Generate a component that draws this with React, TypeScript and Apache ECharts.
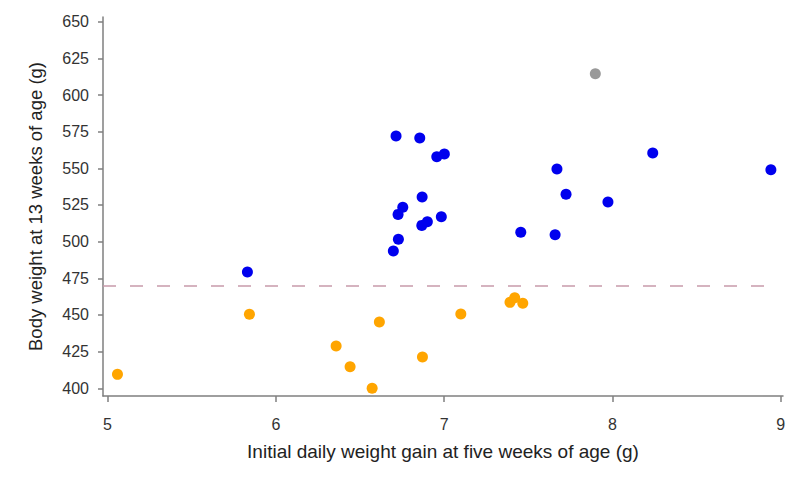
import React, { useEffect, useRef } from "react";
import * as echarts from "echarts";

const xTicks = [5, 6, 7, 8, 9];
const yTicks = [400, 425, 450, 475, 500, 525, 550, 575, 600, 625, 650];

const blueX = [6.714, 6.855, 6.956, 7.001, 6.869, 6.754, 6.726, 6.983, 6.9, 6.867, 6.728, 6.698, 5.831, 8.239, 8.941, 7.67, 7.724, 7.973, 7.455, 7.659];
const blueY = [572.0, 570.7, 557.9, 559.7, 530.4, 523.4, 518.6, 517.0, 513.6, 511.1, 501.6, 493.6, 479.3, 560.4, 549.0, 549.5, 532.3, 527.0, 506.4, 504.7];

const orangeX = [5.843, 6.615, 7.099, 6.358, 6.871, 6.441, 5.059, 6.572, 7.391, 7.419, 7.467];
const orangeY = [450.5, 445.2, 450.7, 428.8, 421.3, 414.7, 409.5, 400.0, 458.6, 461.8, 458.0];

const greyX = [7.898];
const greyY = [614.5];

const thresholdY = 470;

const zip = (xs: number[], ys: number[]) => xs.map((x, i) => [x, ys[i]]);

export default function App() {
  const ref = useRef<HTMLDivElement>(null);
  useEffect(() => {
    if (!ref.current) return;
    const chart = echarts.init(ref.current, null, { renderer: "svg" });
    const font = "'Liberation Sans', Arial, sans-serif";
    const axisLineStyle = { color: "#7f7f7f", width: 1.5 };
    chart.setOption({
      animation: false,
      backgroundColor: "#ffffff",
      grid: { left: 103, right: 17, top: 17, bottom: 82, containLabel: false },
      xAxis: {
        type: "value",
        min: 4.973,
        max: 9.013,
        splitLine: { show: false },
        axisLine: { show: true, lineStyle: axisLineStyle },
        axisTick: { show: true, length: 6, lineStyle: axisLineStyle, customValues: xTicks },
        axisLabel: { customValues: xTicks, color: "#333", fontSize: 16, fontFamily: font, margin: 20 },
        name: "Initial daily weight gain at five weeks of age (g)",
        nameLocation: "middle",
        nameGap: 46,
        nameTextStyle: { color: "#222", fontSize: 19, fontFamily: font },
      },
      yAxis: {
        type: "value",
        min: 394.75,
        max: 653.2,
        splitLine: { show: false },
        axisLine: { show: true, lineStyle: axisLineStyle },
        axisTick: { show: true, length: 5, lineStyle: axisLineStyle, customValues: yTicks },
        axisLabel: { customValues: yTicks, color: "#333", fontSize: 16, fontFamily: font, margin: 14 },
        name: "Body weight at 13 weeks of age (g)",
        nameLocation: "middle",
        nameGap: 58,
        nameRotate: 90,
        nameTextStyle: { color: "#222", fontSize: 18.5, fontFamily: font },
      },
      series: [
        {
          type: "scatter",
          data: zip(orangeX, orangeY),
          symbolSize: 11,
          itemStyle: { color: "#ffa500", opacity: 1 },
          markLine: {
            silent: true,
            symbol: "none",
            label: { show: false },
            lineStyle: { color: "#c89aaa", type: [13, 14], width: 1.5 },
            data: [[{ coord: [4.973, thresholdY] }, { coord: [8.96, thresholdY] }]],
          },
        },
        {
          type: "scatter",
          data: zip(blueX, blueY),
          symbolSize: 11,
          itemStyle: { color: "#0000ee", opacity: 1 },
        },
        {
          type: "scatter",
          data: zip(greyX, greyY),
          symbolSize: 11,
          itemStyle: { color: "#999999", opacity: 1 },
        },
      ],
    });
    return () => chart.dispose();
  }, []);
  return <div ref={ref} style={{ width: 800, height: 478, position: "absolute", left: 0, top: 0 }} />;
}
